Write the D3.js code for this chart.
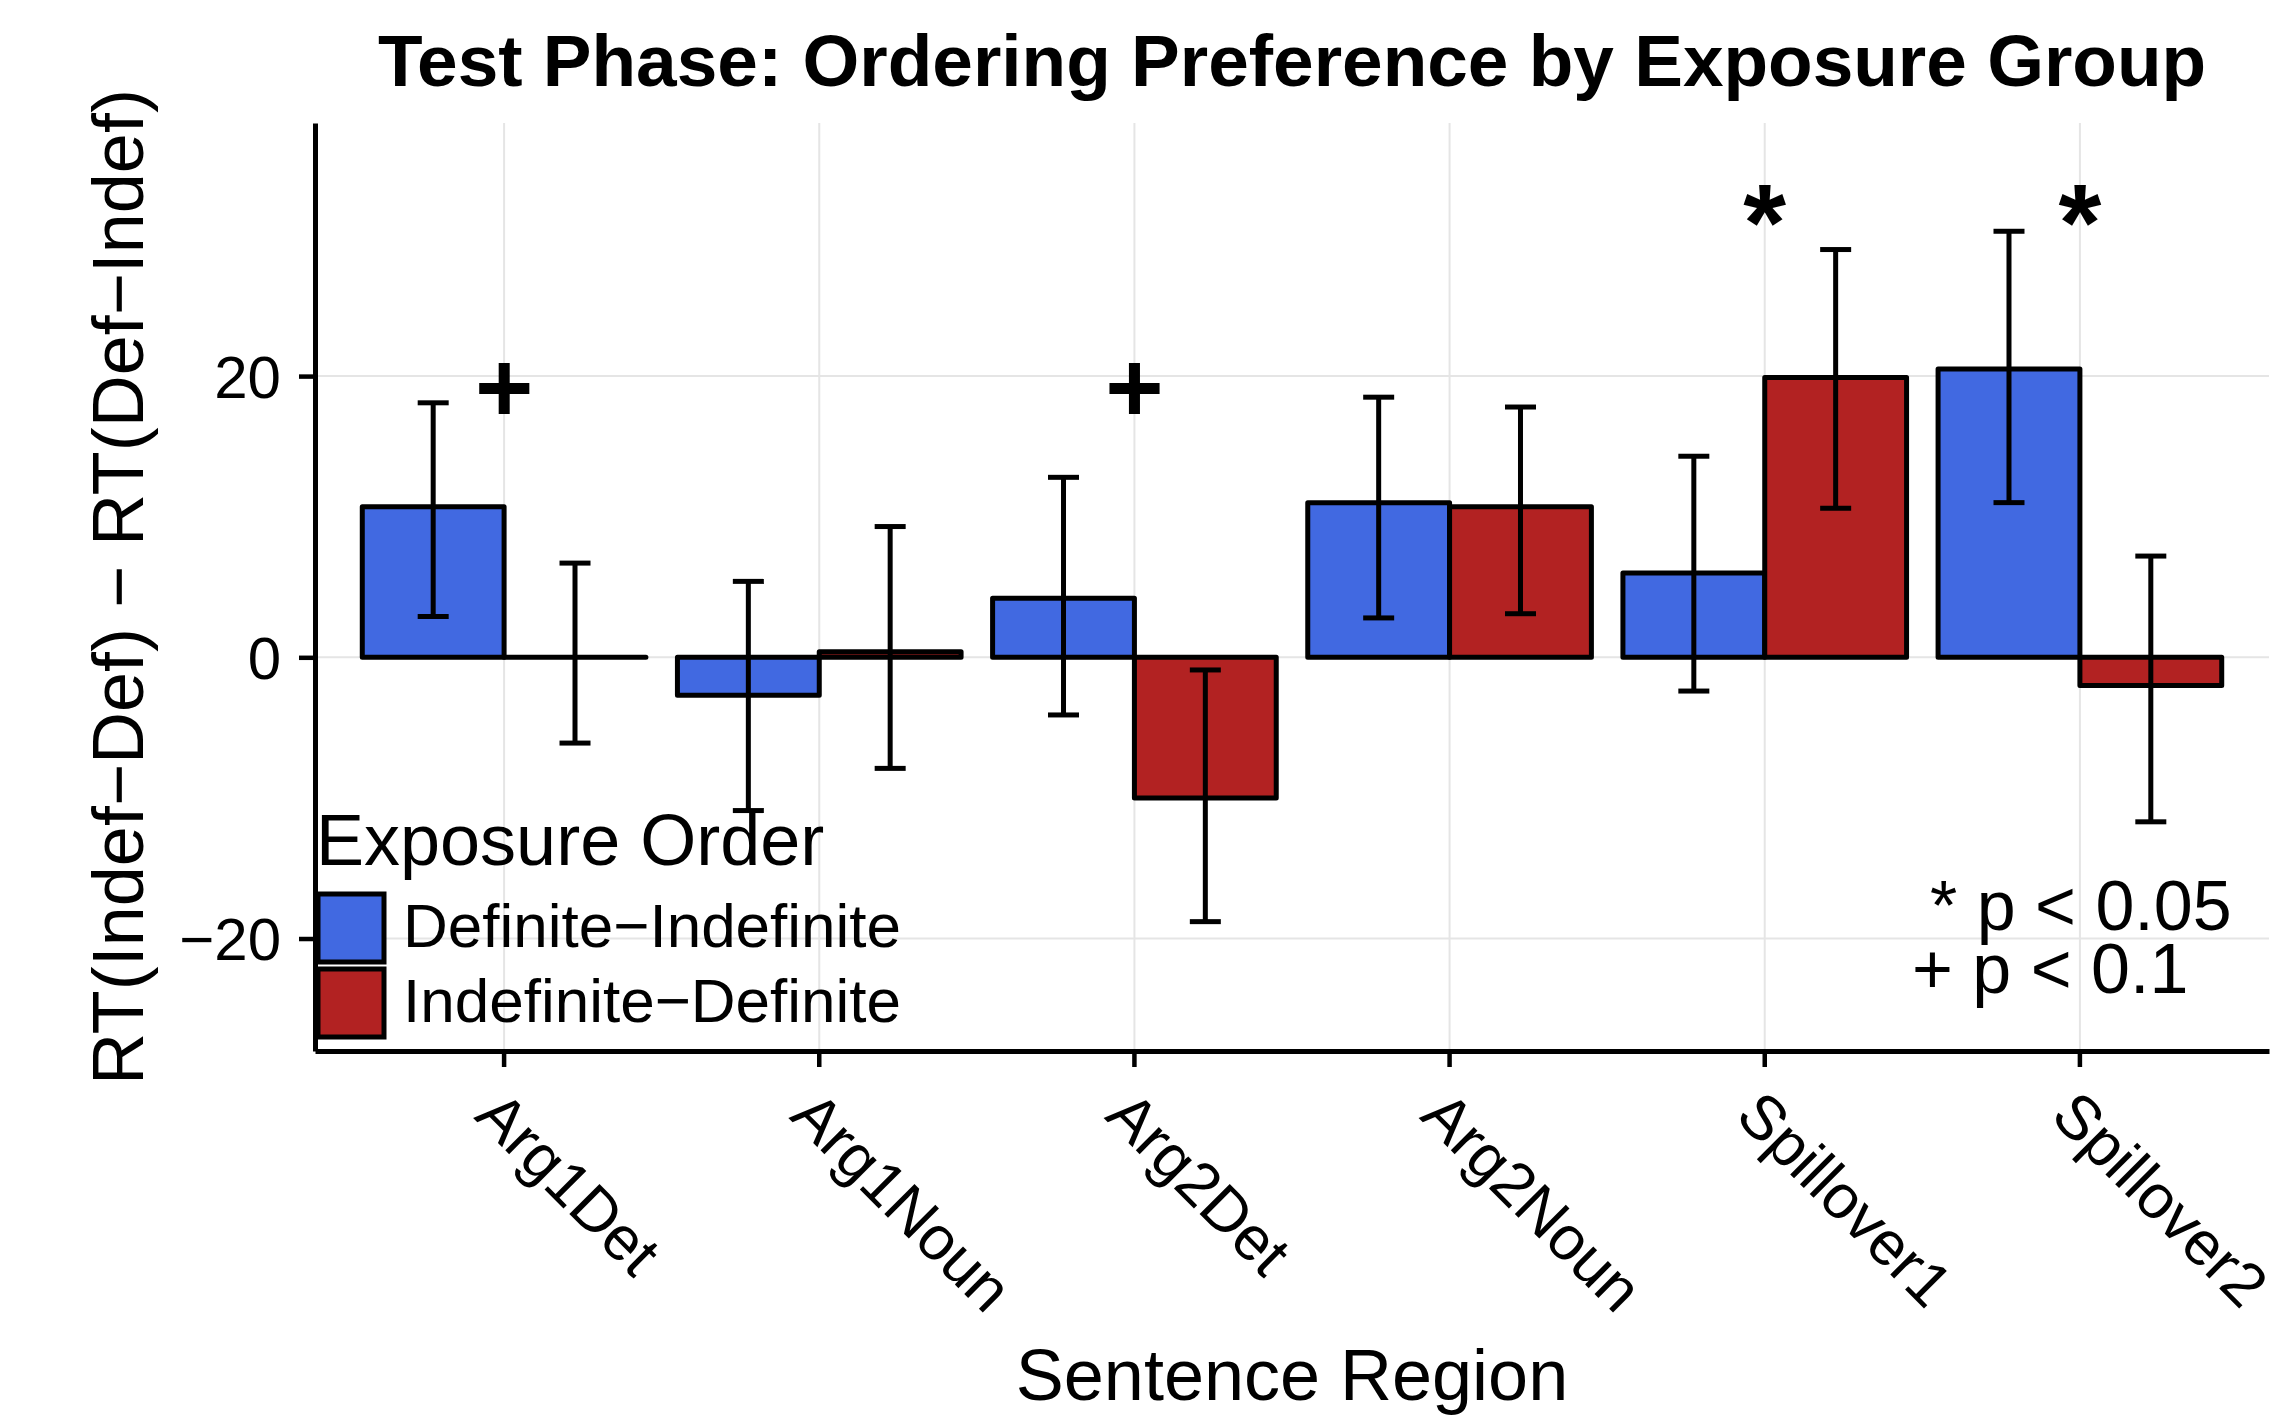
<!DOCTYPE html>
<html>
<head>
<meta charset="utf-8">
<script src="https://cdn.jsdelivr.net/npm/d3@7"></script>
<style>
  body { margin: 0; background: #fff; }
  text { font-family: 'Liberation Sans', Arial, Helvetica, sans-serif; fill: #000; }
</style>
</head>
<body>
<script>
// regions on the x axis
const categories = ['Arg1Det', 'Arg1Noun', 'Arg2Det', 'Arg2Noun', 'Spillover1', 'Spillover2'];
const groups = ['Definite\u2212Indefinite', 'Indefinite\u2212Definite'];
const colors = ['#4169e1', '#b22222'];

// Definite-Indefinite series (mean and error bar ends)
const defIndefMean = [10.7, -2.7, 4.2, 11.0, 6.0, 20.5];
const defIndefLow = [2.9, -10.9, -4.1, 2.8, -2.4, 11.0];
const defIndefHigh = [18.1, 5.4, 12.8, 18.5, 14.3, 30.3];

// Indefinite-Definite series
const indefDefMean = [0.0, 0.4, -10.0, 10.7, 19.9, -2.0];
const indefDefLow = [-6.1, -7.9, -18.8, 3.1, 10.6, -11.7];
const indefDefHigh = [6.7, 9.3, -0.9, 17.8, 29.0, 7.2];

// significance markers
const markCategories = ['Arg1Det', 'Arg2Det', 'Spillover1', 'Spillover2'];
const markLabels = ['+', '+', '*', '*'];
const markY = [19.2, 19.2, 31.0, 31.0];

const yTicks = [-20, 0, 20];

const width = 2276;
const height = 1418;
const margins = {
  top: 123,
  bottom: 367,
  left: 315,
  right: 7,
};

const rows = [];
categories.forEach((c, i) => {
  rows.push({cat: c, group: groups[0], mean: defIndefMean[i], low: defIndefLow[i], high: defIndefHigh[i]});
  rows.push({cat: c, group: groups[1], mean: indefDefMean[i], low: indefDefLow[i], high: indefDefHigh[i]});
});

const xScale = d3.scaleBand(categories, [margins.left, width - margins.right])
  .paddingInner(0)
  .paddingOuter(0.1);
const step = xScale.bandwidth();
const xSub = d3.scaleBand(groups, [0.05 * step, 0.95 * step]);
const yScale = d3.scaleLinear([-28, 38], [height - margins.bottom, margins.top]);
const color = d3.scaleOrdinal(groups, colors);

const svg = d3.select('body').append('svg')
  .attr('width', width)
  .attr('height', height)

// grid
svg.append('g')
  .attr('id', 'grid')
  .call(g => g.selectAll('.gy')
    .data(yTicks)
    .join('line')
    .attr('x1', margins.left)
    .attr('x2', width - margins.right)
    .attr('y1', d => yScale(d))
    .attr('y2', d => yScale(d)))
  .call(g => g.selectAll('.gx')
    .data(categories)
    .join('line')
    .attr('x1', d => xScale(d) + step / 2)
    .attr('x2', d => xScale(d) + step / 2)
    .attr('y1', margins.top)
    .attr('y2', height - margins.bottom))
  .selectAll('line')
  .attr('stroke', '#e5e5e5')
  .attr('stroke-width', 2)

// bars, drawn as paths so a zero bar still shows its outline
svg.append('g')
  .attr('id', 'bars')
  .selectAll('path')
  .data(rows)
  .join('path')
  .attr('d', d => {
    const x0 = xScale(d.cat) + xSub(d.group);
    const x1 = x0 + xSub.bandwidth();
    const y0 = yScale(0);
    const y1 = yScale(d.mean);
    return `M${x0},${y0}L${x0},${y1}L${x1},${y1}L${x1},${y0}Z`;
  })
  .attr('fill', d => color(d.group))
  .attr('stroke', '#000')
  .attr('stroke-width', 5)
  .attr('stroke-linejoin', 'round')

// error bars
const capW = 31;
const eb = svg.append('g')
  .attr('id', 'errorbars')
  .selectAll('g')
  .data(rows)
  .join('g')
  .attr('transform', d => `translate(${xScale(d.cat) + xSub(d.group) + xSub.bandwidth() / 2}, 0)`)
  .attr('stroke', '#000')
  .attr('stroke-width', 5)

eb.append('line')
  .attr('y1', d => yScale(d.low))
  .attr('y2', d => yScale(d.high))
eb.append('line')
  .attr('x1', -capW / 2)
  .attr('x2', capW / 2)
  .attr('y1', d => yScale(d.low))
  .attr('y2', d => yScale(d.low))
eb.append('line')
  .attr('x1', -capW / 2)
  .attr('x2', capW / 2)
  .attr('y1', d => yScale(d.high))
  .attr('y2', d => yScale(d.high))

// significance markers
svg.append('g')
  .attr('id', 'marks')
  .selectAll('text')
  .data(markCategories.map((c, i) => [c, markLabels[i], markY[i]]))
  .join('text')
  .attr('x', d => xScale(d[0]) + step / 2)
  .attr('y', d => yScale(d[2]))
  .attr('text-anchor', 'middle')
  .attr('dominant-baseline', 'central')
  .attr('font-size', d => d[1] == '*' ? 110 : 100)
  .attr('font-weight', 'bold')
  .text(d => d[1])

// y-axis
svg.append('g')
  .attr('id', 'gy')
  .attr('transform', `translate(${margins.left}, 0)`)
  .call(d3.axisLeft(yScale).tickValues(yTicks).tickSize(16).tickSizeOuter(0).tickPadding(18))
  .call(g => g.select('.domain').attr('stroke-width', 5).attr('stroke', '#000'))
  .call(g => g.selectAll('.tick line').attr('stroke-width', 4.5).attr('stroke', '#000'))
  .call(g => g.selectAll('.tick text').attr('font-size', 60).attr('font-family', null).attr('dy', '0.35em'))

// x-axis
svg.append('g')
  .attr('id', 'gx')
  .attr('transform', `translate(0, ${height - margins.bottom})`)
  .call(d3.axisBottom(xScale).tickSize(16).tickSizeOuter(0))
  .call(g => g.select('.domain').attr('stroke-width', 5).attr('stroke', '#000'))
  .call(g => g.selectAll('.tick line').attr('stroke-width', 4.5).attr('stroke', '#000'))
  .call(g => g.selectAll('.tick text')
    .attr('font-size', 62)
    .attr('font-family', null)
    .attr('text-anchor', 'start')
    .attr('x', -31)
    .attr('y', 67)
    .attr('dy', 0)
    .attr('transform', 'rotate(45, -31, 67)'))

// titles
svg.append('text')
  .attr('x', (margins.left + width - margins.right) / 2)
  .attr('y', 86)
  .attr('text-anchor', 'middle')
  .attr('font-size', 73)
  .attr('font-weight', 'bold')
  .text('Test Phase: Ordering Preference by Exposure Group')

svg.append('text')
  .attr('x', (margins.left + width - margins.right) / 2)
  .attr('y', 1400)
  .attr('text-anchor', 'middle')
  .attr('font-size', 72)
  .text('Sentence Region')

svg.append('text')
  .attr('transform', `translate(143, ${(margins.top + height - margins.bottom) / 2}) rotate(-90)`)
  .attr('text-anchor', 'middle')
  .attr('font-size', 72)
  .text('RT(Indef\u2212Def) \u2212 RT(Def\u2212Indef)')

// legend
const legend = svg.append('g')
  .attr('id', 'legend')
  .attr('transform', 'translate(316, 865)')

legend.append('text')
  .attr('font-size', 72)
  .text('Exposure Order')

const items = legend.selectAll('.item')
  .data(groups)
  .join('g')
  .attr('transform', (d, i) => `translate(0, ${29 + i * 75})`)

items.append('rect')
  .attr('x', 2)
  .attr('y', 0)
  .attr('width', 66)
  .attr('height', 68)
  .attr('fill', d => color(d))
  .attr('stroke', '#000')
  .attr('stroke-width', 5)

items.append('text')
  .attr('x', 87)
  .attr('y', 53)
  .attr('font-size', 62)
  .text(d => d)

// p value note
const note = svg.append('g').attr('id', 'note')
note.append('text')
  .attr('x', 1930)
  .attr('y', 930)
  .attr('font-size', 70)
  .text('* p < 0.05')
note.append('text')
  .attr('x', 1912)
  .attr('y', 993)
  .attr('font-size', 70)
  .text('+ p < 0.1')
</script>
</body>
</html>
